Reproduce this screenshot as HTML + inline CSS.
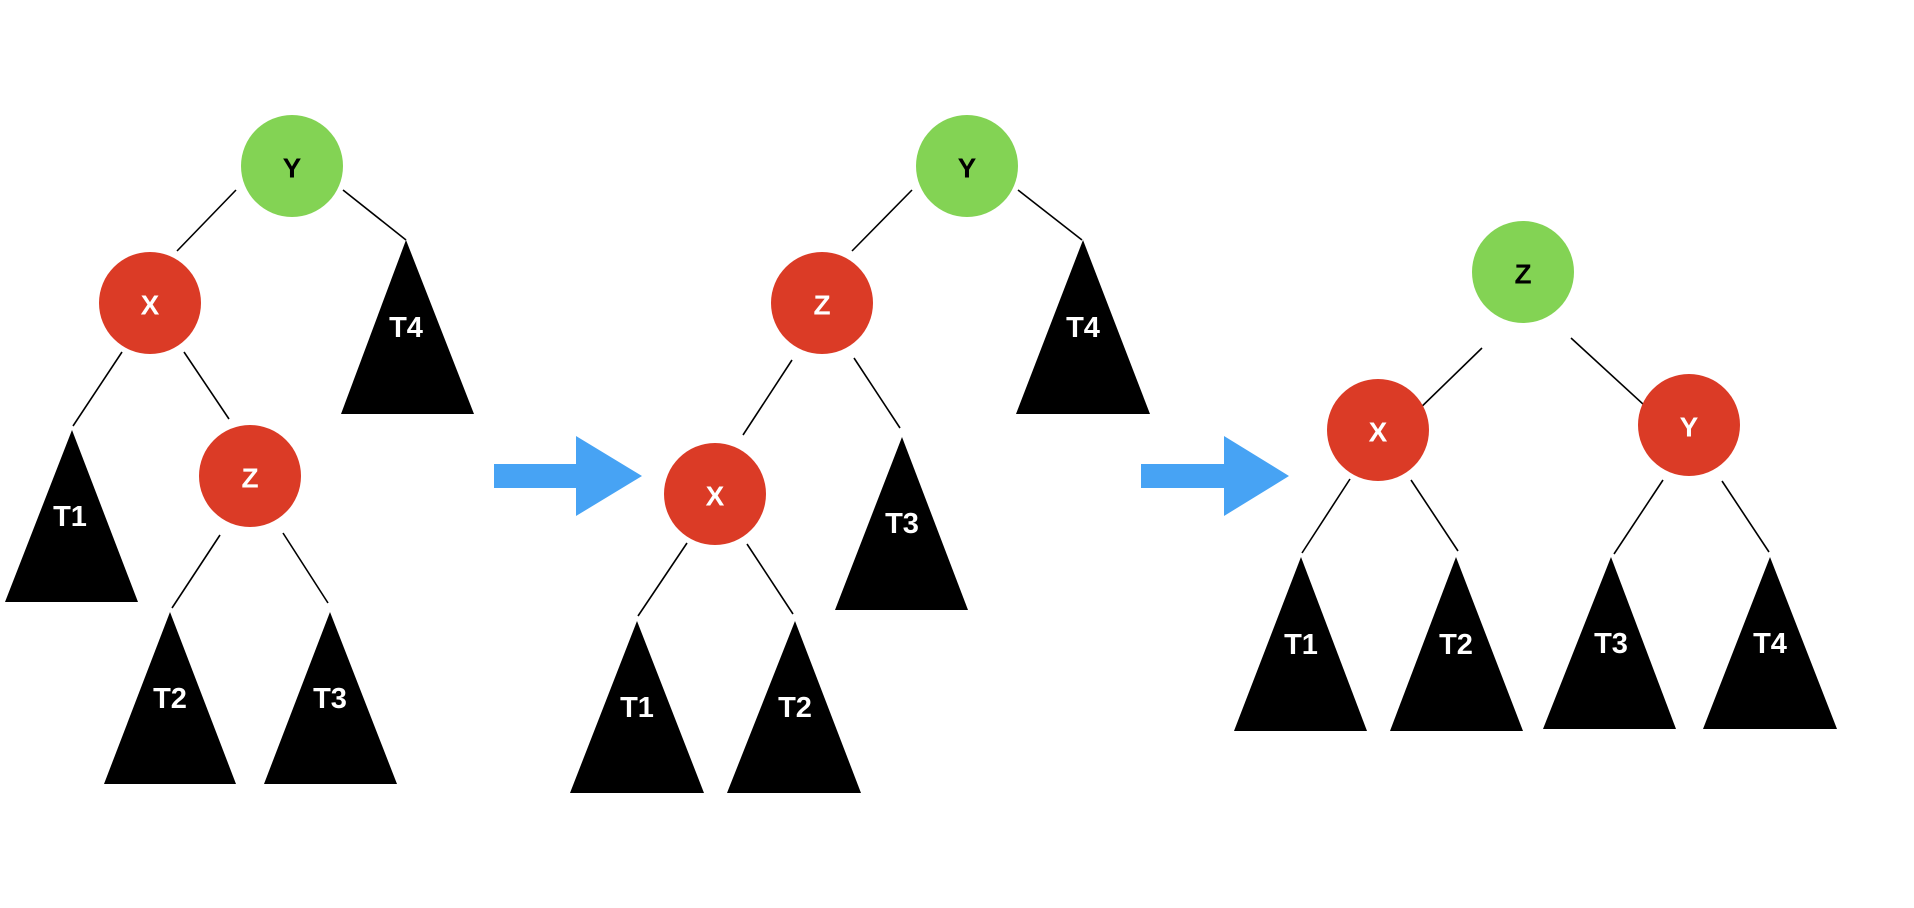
<!DOCTYPE html>
<html><head><meta charset="utf-8"><style>
html,body{margin:0;padding:0;background:#fff;width:1914px;height:908px;overflow:hidden}
svg text{font-family:"Liberation Sans",sans-serif;font-weight:bold;text-anchor:middle;dominant-baseline:central}
</style></head><body>
<svg width="1914" height="908" viewBox="0 0 1914 908" xmlns="http://www.w3.org/2000/svg">
<g stroke="#000" stroke-width="1.6">
<!-- tree 1 -->
<line x1="236" y1="190" x2="177" y2="251"/>
<line x1="343" y1="190" x2="406" y2="240"/>
<line x1="122" y1="352" x2="73" y2="426"/>
<line x1="184" y1="352" x2="229" y2="419"/>
<line x1="220" y1="535" x2="172" y2="608"/>
<line x1="283" y1="533" x2="328" y2="603"/>
<!-- tree 2 -->
<line x1="912" y1="190" x2="852" y2="251"/>
<line x1="1018" y1="190" x2="1082" y2="240"/>
<line x1="792" y1="360" x2="743" y2="435"/>
<line x1="854" y1="358" x2="900" y2="428"/>
<line x1="687" y1="543" x2="638" y2="616"/>
<line x1="747" y1="544" x2="793" y2="614"/>
<!-- tree 3 -->
<line x1="1482" y1="348" x2="1412" y2="416"/>
<line x1="1571" y1="338" x2="1656" y2="416"/>
<line x1="1350" y1="479" x2="1302" y2="553"/>
<line x1="1411" y1="480" x2="1458" y2="551"/>
<line x1="1663" y1="480" x2="1614" y2="554"/>
<line x1="1722" y1="481" x2="1769" y2="552"/>
</g>
<g fill="#000">
<polygon points="406,240 341,414 474,414"/>
<polygon points="72,430 5,602 138,602"/>
<polygon points="170,612 104,784 236,784"/>
<polygon points="330,612 264,784 397,784"/>
<polygon points="1083,240 1016,414 1150,414"/>
<polygon points="902,437 835,610 968,610"/>
<polygon points="637,621 570,793 704,793"/>
<polygon points="795,621 727,793 861,793"/>
<polygon points="1301,557 1234,731 1367,731"/>
<polygon points="1456,557 1390,731 1523,731"/>
<polygon points="1611,557 1543,729 1676,729"/>
<polygon points="1770,557 1703,729 1837,729"/>
</g>
<g fill="#fff" font-size="29">
<text x="406" y="328">T4</text>
<text x="70" y="517">T1</text>
<text x="170" y="699">T2</text>
<text x="330" y="699">T3</text>
<text x="1083" y="328">T4</text>
<text x="902" y="524">T3</text>
<text x="637" y="708">T1</text>
<text x="795" y="708">T2</text>
<text x="1301" y="645">T1</text>
<text x="1456" y="645">T2</text>
<text x="1611" y="644">T3</text>
<text x="1770" y="644">T4</text>
</g>
<g fill="#47a3f4">
<polygon points="494,464 576,464 576,436 642,476 576,516 576,488 494,488"/>
<polygon points="1141,464 1224,464 1224,436 1289,476 1224,516 1224,488 1141,488"/>
</g>
<g font-size="28">
<circle cx="292" cy="166" r="51" fill="#83d354"/><text x="292" y="168" fill="#000">Y</text>
<circle cx="150" cy="303" r="51" fill="#db3b26"/><text x="150" y="305" fill="#fff">X</text>
<circle cx="250" cy="476" r="51" fill="#db3b26"/><text x="250" y="478" fill="#fff">Z</text>
<circle cx="967" cy="166" r="51" fill="#83d354"/><text x="967" y="168" fill="#000">Y</text>
<circle cx="822" cy="303" r="51" fill="#db3b26"/><text x="822" y="305" fill="#fff">Z</text>
<circle cx="715" cy="494" r="51" fill="#db3b26"/><text x="715" y="496" fill="#fff">X</text>
<circle cx="1523" cy="272" r="51" fill="#83d354"/><text x="1523" y="274" fill="#000">Z</text>
<circle cx="1378" cy="430" r="51" fill="#db3b26"/><text x="1378" y="432" fill="#fff">X</text>
<circle cx="1689" cy="425" r="51" fill="#db3b26"/><text x="1689" y="427" fill="#fff">Y</text>
</g>
</svg>
</body></html>
